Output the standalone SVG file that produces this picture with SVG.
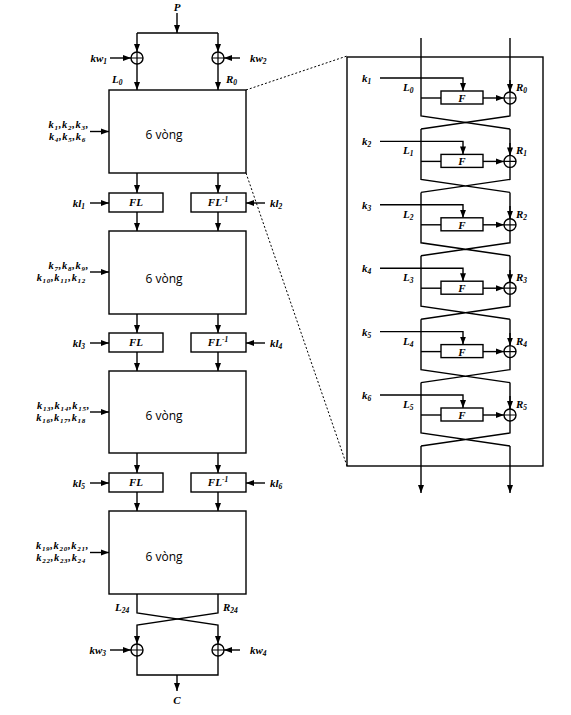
<svg xmlns="http://www.w3.org/2000/svg" width="571" height="715" viewBox="0 0 571 715">
<defs>
<style>
.ln{fill:none;stroke:#000;stroke-width:1.4}
.ar{fill:none;stroke:#000;stroke-width:1.4;marker-end:url(#ah)}
.bx{fill:#fff;stroke:#000;stroke-width:1.4}
.ds{fill:none;stroke:#000;stroke-width:1;stroke-dasharray:2 2}
.t{font-family:"Liberation Serif",serif;font-weight:bold;font-style:italic;font-size:11px;fill:#000}
.s{font-size:7.5px}
.kl{font-size:10.5px;letter-spacing:0.7px}
.kl .s{font-size:7px}
.v{font-family:"Open Sans","Liberation Sans",sans-serif;font-size:12px;fill:#000}
</style>
<marker id="ah" markerWidth="8" markerHeight="8" viewBox="0 0 8 8" refX="8" refY="4" orient="auto" markerUnits="userSpaceOnUse"><path d="M0,1 L8,4 L0,7 z" fill="#000"/></marker>
<g id="xorsym"><circle cx="0" cy="0" r="6" fill="#fff" stroke="#000" stroke-width="1.4"/><path d="M-6,0 H6 M0,-6 V6" stroke="#000" stroke-width="1.2"/></g>
</defs>

<g id="connectors">
<line class="ar" x1="177" y1="13" x2="177" y2="33"/>
<line class="ln" x1="137" y1="33" x2="218" y2="33"/>
<line class="ar" x1="137" y1="33" x2="137" y2="52"/>
<line class="ar" x1="218" y1="33" x2="218" y2="52"/>
<line class="ar" x1="110" y1="58" x2="131" y2="58"/>
<line class="ar" x1="240" y1="58" x2="224" y2="58"/>
<line class="ar" x1="137" y1="64" x2="137" y2="90"/>
<line class="ar" x1="218" y1="64" x2="218" y2="90"/>
<line class="ar" x1="90" y1="131.5" x2="109" y2="131.5"/>
<line class="ar" x1="137" y1="173" x2="137" y2="193"/>
<line class="ar" x1="218" y1="173" x2="218" y2="193"/>
<line class="ar" x1="90" y1="203" x2="109" y2="203"/>
<line class="ar" x1="265" y1="203" x2="246" y2="203"/>
<line class="ar" x1="137" y1="212" x2="137" y2="231"/>
<line class="ar" x1="218" y1="212" x2="218" y2="231"/>
<line class="ar" x1="90" y1="272" x2="109" y2="272"/>
<line class="ar" x1="137" y1="314" x2="137" y2="333"/>
<line class="ar" x1="218" y1="314" x2="218" y2="333"/>
<line class="ar" x1="90" y1="343" x2="109" y2="343"/>
<line class="ar" x1="265" y1="343" x2="246" y2="343"/>
<line class="ar" x1="137" y1="352" x2="137" y2="371"/>
<line class="ar" x1="218" y1="352" x2="218" y2="371"/>
<line class="ar" x1="90" y1="412" x2="109" y2="412"/>
<line class="ar" x1="137" y1="453" x2="137" y2="473"/>
<line class="ar" x1="218" y1="453" x2="218" y2="473"/>
<line class="ar" x1="90" y1="483" x2="109" y2="483"/>
<line class="ar" x1="265" y1="483" x2="246" y2="483"/>
<line class="ar" x1="137" y1="492" x2="137" y2="511"/>
<line class="ar" x1="218" y1="492" x2="218" y2="511"/>
<line class="ar" x1="90" y1="552.5" x2="109" y2="552.5"/>
<path class="ar" d="M137,594 V613 L218,625 V644"/>
<path class="ar" d="M218,594 V613 L137,625 V644"/>
<line class="ar" x1="110" y1="650" x2="131" y2="650"/>
<line class="ar" x1="240" y1="650" x2="224" y2="650"/>
<path class="ln" d="M137,656 V675 H218 V656"/>
<line class="ar" x1="177" y1="675" x2="177" y2="691"/>
<line class="ds" x1="246" y1="90" x2="347" y2="56"/>
<line class="ds" x1="246" y1="173" x2="347" y2="466"/>
</g>

<g id="input-P"><text class="t" x="177" y="11" text-anchor="middle">P</text></g>
<g id="xor-1"><use href="#xorsym" x="137" y="58"/><text class="t" x="107" y="62" text-anchor="end">kw<tspan class="s" dy="2">1</tspan></text><text class="t" x="112" y="83">L<tspan class="s" dy="2">0</tspan></text></g>
<g id="xor-2"><use href="#xorsym" x="218" y="58"/><text class="t" x="250" y="62">kw<tspan class="s" dy="2">2</tspan></text><text class="t" x="226" y="83">R<tspan class="s" dy="2">0</tspan></text></g>

<g id="block-1"><rect class="bx" x="109" y="90" width="137" height="83"/><text class="v" x="164" y="139" text-anchor="middle">6 vòng</text>
<text class="t kl" x="89" y="128" text-anchor="end">k<tspan class="s" dy="2">1</tspan><tspan dy="-2">,k</tspan><tspan class="s" dy="2">2</tspan><tspan dy="-2">,k</tspan><tspan class="s" dy="2">3</tspan><tspan dy="-2">,</tspan></text>
<text class="t kl" x="86" y="140" text-anchor="end">k<tspan class="s" dy="2">4</tspan><tspan dy="-2">,k</tspan><tspan class="s" dy="2">5</tspan><tspan dy="-2">,k</tspan><tspan class="s" dy="2">6</tspan></text></g>

<g id="fl-1"><rect class="bx" x="109" y="193" width="54" height="19"/><text class="t" x="136" y="206" text-anchor="middle">FL</text><text class="t" x="85" y="207" text-anchor="end">kl<tspan class="s" dy="2">1</tspan></text></g>
<g id="fl-2"><rect class="bx" x="191" y="193" width="55" height="19"/><text class="t" x="218" y="206" text-anchor="middle">FL<tspan class="s" dy="-4">-1</tspan></text><text class="t" x="270" y="207">kl<tspan class="s" dy="2">2</tspan></text></g>

<g id="block-2"><rect class="bx" x="109" y="231" width="137" height="83"/><text class="v" x="164" y="283" text-anchor="middle">6 vòng</text>
<text class="t kl" x="89" y="269" text-anchor="end">k<tspan class="s" dy="2">7</tspan><tspan dy="-2">,k</tspan><tspan class="s" dy="2">8</tspan><tspan dy="-2">,k</tspan><tspan class="s" dy="2">9</tspan><tspan dy="-2">,</tspan></text>
<text class="t kl" x="86" y="281" text-anchor="end">k<tspan class="s" dy="2">10</tspan><tspan dy="-2">,k</tspan><tspan class="s" dy="2">11</tspan><tspan dy="-2">,k</tspan><tspan class="s" dy="2">12</tspan></text></g>

<g id="fl-3"><rect class="bx" x="109" y="333" width="54" height="19"/><text class="t" x="136" y="346" text-anchor="middle">FL</text><text class="t" x="85" y="347" text-anchor="end">kl<tspan class="s" dy="2">3</tspan></text></g>
<g id="fl-4"><rect class="bx" x="191" y="333" width="55" height="19"/><text class="t" x="218" y="346" text-anchor="middle">FL<tspan class="s" dy="-4">-1</tspan></text><text class="t" x="270" y="347">kl<tspan class="s" dy="2">4</tspan></text></g>

<g id="block-3"><rect class="bx" x="109" y="371" width="137" height="82"/><text class="v" x="164" y="420" text-anchor="middle">6 vòng</text>
<text class="t kl" x="90" y="408.5" text-anchor="end">k<tspan class="s" dy="2">13</tspan><tspan dy="-2">,k</tspan><tspan class="s" dy="2">14</tspan><tspan dy="-2">,k</tspan><tspan class="s" dy="2">15</tspan><tspan dy="-2">,</tspan></text>
<text class="t kl" x="86" y="420.5" text-anchor="end">k<tspan class="s" dy="2">16</tspan><tspan dy="-2">,k</tspan><tspan class="s" dy="2">17</tspan><tspan dy="-2">,k</tspan><tspan class="s" dy="2">18</tspan></text></g>

<g id="fl-5"><rect class="bx" x="109" y="473" width="54" height="19"/><text class="t" x="136" y="486" text-anchor="middle">FL</text><text class="t" x="85" y="487" text-anchor="end">kl<tspan class="s" dy="2">5</tspan></text></g>
<g id="fl-6"><rect class="bx" x="191" y="473" width="55" height="19"/><text class="t" x="218" y="486" text-anchor="middle">FL<tspan class="s" dy="-4">-1</tspan></text><text class="t" x="270" y="487">kl<tspan class="s" dy="2">6</tspan></text></g>

<g id="block-4"><rect class="bx" x="109" y="511" width="137" height="83"/><text class="v" x="164" y="561" text-anchor="middle">6 vòng</text>
<text class="t kl" x="89" y="549" text-anchor="end">k<tspan class="s" dy="2">19</tspan><tspan dy="-2">,k</tspan><tspan class="s" dy="2">20</tspan><tspan dy="-2">,k</tspan><tspan class="s" dy="2">21</tspan><tspan dy="-2">,</tspan></text>
<text class="t kl" x="86" y="561" text-anchor="end">k<tspan class="s" dy="2">22</tspan><tspan dy="-2">,k</tspan><tspan class="s" dy="2">23</tspan><tspan dy="-2">,k</tspan><tspan class="s" dy="2">24</tspan></text>
<text class="t" x="115" y="611">L<tspan class="s" dy="2">24</tspan></text><text class="t" x="223" y="611">R<tspan class="s" dy="2">24</tspan></text></g>

<g id="xor-3"><use href="#xorsym" x="137" y="650"/><text class="t" x="106" y="654" text-anchor="end">kw<tspan class="s" dy="2">3</tspan></text></g>
<g id="xor-4"><use href="#xorsym" x="218" y="650"/><text class="t" x="250" y="654">kw<tspan class="s" dy="2">4</tspan></text></g>
<g id="output-C"><text class="t" x="177" y="704" text-anchor="middle">C</text></g>

<g id="detail-panel">
<rect x="347" y="57" width="196" height="409" fill="none" stroke="#000" stroke-width="1.4"/>
<g id="panel-lines">
<path class="ln" d="M421,38 V116 L510,129 M510,38 V92"/>
<path class="ln" d="M510,104 V116 L421,129"/>
<path class="ln" d="M421,129 V179.4 L510,192.4 M510,129 V155.4 M510,167.4 V179.4 L421,192.4"/>
<path class="ln" d="M421,192.4 V242.8 L510,255.8 M510,192.4 V218.8 M510,230.8 V242.8 L421,255.8"/>
<path class="ln" d="M421,255.8 V306.2 L510,319.2 M510,255.8 V282.2 M510,294.2 V306.2 L421,319.2"/>
<path class="ln" d="M421,319.2 V369.6 L510,382.6 M510,319.2 V345.6 M510,357.6 V369.6 L421,382.6"/>
<path class="ln" d="M421,382.6 V433 L510,446 M510,382.6 V409 M510,421 V433 L421,446"/>
<line class="ar" x1="421" y1="446" x2="421" y2="493"/>
<line class="ar" x1="510" y1="446" x2="510" y2="493"/>
</g>
<g id="round-1"><line class="ar" x1="510" y1="80" x2="510" y2="92"/><path class="ar" d="M380,78 H463 V91"/><line class="ln" x1="421" y1="98" x2="441" y2="98"/><rect class="bx" x="441" y="91" width="42" height="13"/><text class="t" x="462" y="102" text-anchor="middle">F</text><line class="ar" x1="483" y1="98" x2="504" y2="98"/><use href="#xorsym" x="510" y="98"/><text class="t" x="362" y="82">k<tspan class="s" dy="2">1</tspan></text><text class="t" x="403" y="91">L<tspan class="s" dy="2">0</tspan></text><text class="t" x="516" y="91">R<tspan class="s" dy="2">0</tspan></text></g>
<g id="round-2"><line class="ar" x1="510" y1="143" x2="510" y2="155.4"/><path class="ar" d="M380,141.4 H463 V154.4"/><line class="ln" x1="421" y1="161.4" x2="441" y2="161.4"/><rect class="bx" x="441" y="154.4" width="42" height="13"/><text class="t" x="462" y="165.4" text-anchor="middle">F</text><line class="ar" x1="483" y1="161.4" x2="504" y2="161.4"/><use href="#xorsym" x="510" y="161.4"/><text class="t" x="362" y="145.4">k<tspan class="s" dy="2">2</tspan></text><text class="t" x="403" y="154.4">L<tspan class="s" dy="2">1</tspan></text><text class="t" x="516" y="154.4">R<tspan class="s" dy="2">1</tspan></text></g>
<g id="round-3"><line class="ar" x1="510" y1="206" x2="510" y2="218.8"/><path class="ar" d="M380,204.8 H463 V217.8"/><line class="ln" x1="421" y1="224.8" x2="441" y2="224.8"/><rect class="bx" x="441" y="217.8" width="42" height="13"/><text class="t" x="462" y="228.8" text-anchor="middle">F</text><line class="ar" x1="483" y1="224.8" x2="504" y2="224.8"/><use href="#xorsym" x="510" y="224.8"/><text class="t" x="362" y="208.8">k<tspan class="s" dy="2">3</tspan></text><text class="t" x="403" y="217.8">L<tspan class="s" dy="2">2</tspan></text><text class="t" x="516" y="217.8">R<tspan class="s" dy="2">2</tspan></text></g>
<g id="round-4"><line class="ar" x1="510" y1="270" x2="510" y2="282.2"/><path class="ar" d="M380,268.2 H463 V281.2"/><line class="ln" x1="421" y1="288.2" x2="441" y2="288.2"/><rect class="bx" x="441" y="281.2" width="42" height="13"/><text class="t" x="462" y="292.2" text-anchor="middle">F</text><line class="ar" x1="483" y1="288.2" x2="504" y2="288.2"/><use href="#xorsym" x="510" y="288.2"/><text class="t" x="362" y="272.2">k<tspan class="s" dy="2">4</tspan></text><text class="t" x="403" y="281.2">L<tspan class="s" dy="2">3</tspan></text><text class="t" x="516" y="281.2">R<tspan class="s" dy="2">3</tspan></text></g>
<g id="round-5"><line class="ar" x1="510" y1="333" x2="510" y2="345.6"/><path class="ar" d="M380,331.6 H463 V344.6"/><line class="ln" x1="421" y1="351.6" x2="441" y2="351.6"/><rect class="bx" x="441" y="344.6" width="42" height="13"/><text class="t" x="462" y="355.6" text-anchor="middle">F</text><line class="ar" x1="483" y1="351.6" x2="504" y2="351.6"/><use href="#xorsym" x="510" y="351.6"/><text class="t" x="362" y="335.6">k<tspan class="s" dy="2">5</tspan></text><text class="t" x="403" y="344.6">L<tspan class="s" dy="2">4</tspan></text><text class="t" x="516" y="344.6">R<tspan class="s" dy="2">4</tspan></text></g>
<g id="round-6"><line class="ar" x1="510" y1="396" x2="510" y2="409"/><path class="ar" d="M380,395 H463 V408"/><line class="ln" x1="421" y1="415" x2="441" y2="415"/><rect class="bx" x="441" y="408" width="42" height="13"/><text class="t" x="462" y="419" text-anchor="middle">F</text><line class="ar" x1="483" y1="415" x2="504" y2="415"/><use href="#xorsym" x="510" y="415"/><text class="t" x="362" y="399">k<tspan class="s" dy="2">6</tspan></text><text class="t" x="403" y="408">L<tspan class="s" dy="2">5</tspan></text><text class="t" x="516" y="408">R<tspan class="s" dy="2">5</tspan></text></g>
</g>
</svg>
